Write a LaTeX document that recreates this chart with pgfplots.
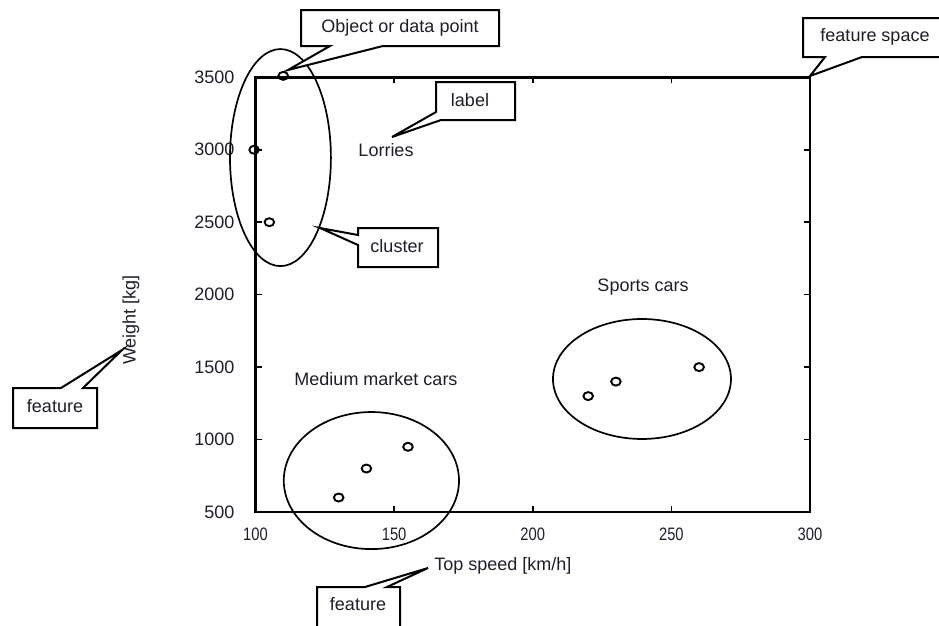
\documentclass[border=0pt]{standalone}
\usepackage{fontspec}
\setmainfont{Liberation Sans}
\usepackage{graphicx}
\usepackage{pgfplots}
\pgfplotsset{compat=1.18}
\definecolor{txt}{RGB}{30,30,42}
\begin{document}
\fontsize{18}{21}\selectfont
\begin{tikzpicture}
\path[use as bounding box] (0pt,0pt) rectangle (939pt,-625pt);
\begin{axis}[
  at={(255.5pt,-512pt)}, anchor=south west,
  scale only axis, width=554.5pt, height=434.7pt,
  xmin=100, xmax=300, ymin=500, ymax=3500,
  xtick={100,150,200,250,300},
  ytick={500,1000,1500,2000,2500,3000,3500},
  tick pos=both, tick align=inside, major tick length=6pt,
  axis line style={line width=2.4pt},
  tick style={black, line width=1.6pt},
  clip=false,
  /pgf/number format/assume math mode=true,
  /pgf/number format/1000 sep={},
  ticklabel style={font=\fontsize{18}{21}\selectfont, text=txt, inner sep=0pt},
  yticklabel style={anchor=east, xshift=-21pt},
  xticklabel style={anchor=north, yshift=-16pt},
  xticklabel={\scalebox{0.82}[1]{\pgfmathprintnumber{\tick}}},
  xlabel={Top speed [km/h]}, ylabel={Weight [kg]},
  label style={font=\fontsize{18}{21}\selectfont, text=txt},
  xlabel style={at={(axis description cs:0.4463,-0.1242)}, anchor=center},
  ylabel style={at={(axis description cs:-0.2245,0.4417)}, anchor=center},
]
% Lorries
\addplot[only marks, mark=o, mark size=4pt, mark options={xscale=1.2, line width=1.9pt, black}]
  coordinates {(110,3510) (99.5,3000) (105,2500)};
% Medium market cars
\addplot[only marks, mark=o, mark size=4pt, mark options={xscale=1.2, line width=1.9pt, black}]
  coordinates {(130,600) (140,800) (155,950)};
% Sports cars
\addplot[only marks, mark=o, mark size=4pt, mark options={xscale=1.2, line width=1.9pt, black}]
  coordinates {(220,1300) (230,1400) (260,1500)};
% cluster ellipses
\draw[line width=1.7pt] (axis cs:109,2946) ellipse [x radius=18.2, y radius=749];
\draw[line width=1.7pt] (axis cs:141.8,717) ellipse [x radius=31.6, y radius=473];
\draw[line width=1.7pt] (axis cs:239.4,1418) ellipse [x radius=32.1, y radius=414];
\end{axis}
\begin{scope}[x=1pt, y=-1pt, line width=2pt,
  every node/.style={text=txt, font=\fontsize{18}{21}\selectfont}]
% Object or data point
\filldraw[fill=white] (301,10) -- (499,10) -- (499,46) -- (383,46) -- (288,70) -- (330,46) -- (301,46) -- cycle;
\node at (400,28) {Object or data point};
% feature space
\filldraw[fill=white] (803,18) -- (946,18) -- (946,57) -- (862,57) -- (810,76) -- (825,57) -- (803,57) -- cycle;
\node at (875,37) {feature space};
% label
\filldraw[fill=white] (436,82) -- (515,82) -- (515,120) -- (441,120) -- (392,137) -- (436,112) -- cycle;
\node at (470,100) {label};
% cluster
\filldraw[fill=white] (358,228) -- (438,228) -- (438,267) -- (358,267) -- (358,245) -- (320,228) -- (358,235) -- cycle;
\node at (397,246) {cluster};
% feature (left)
\filldraw[fill=white] (13,388) -- (61,388) -- (122,350) -- (83,388) -- (97,388) -- (97,428) -- (13,428) -- cycle;
\node at (55,406) {feature};
% feature (bottom)
\filldraw[fill=white] (317,587) -- (365,587) -- (428,568) -- (387,587) -- (400,587) -- (400,640) -- (317,640) -- cycle;
\node at (358,604) {feature};
% cluster names
\node at (386,150) {Lorries};
\node at (643,287) {Sports cars};
\node at (376,379) {Medium market cars};
\end{scope}
\end{tikzpicture}
\end{document}
